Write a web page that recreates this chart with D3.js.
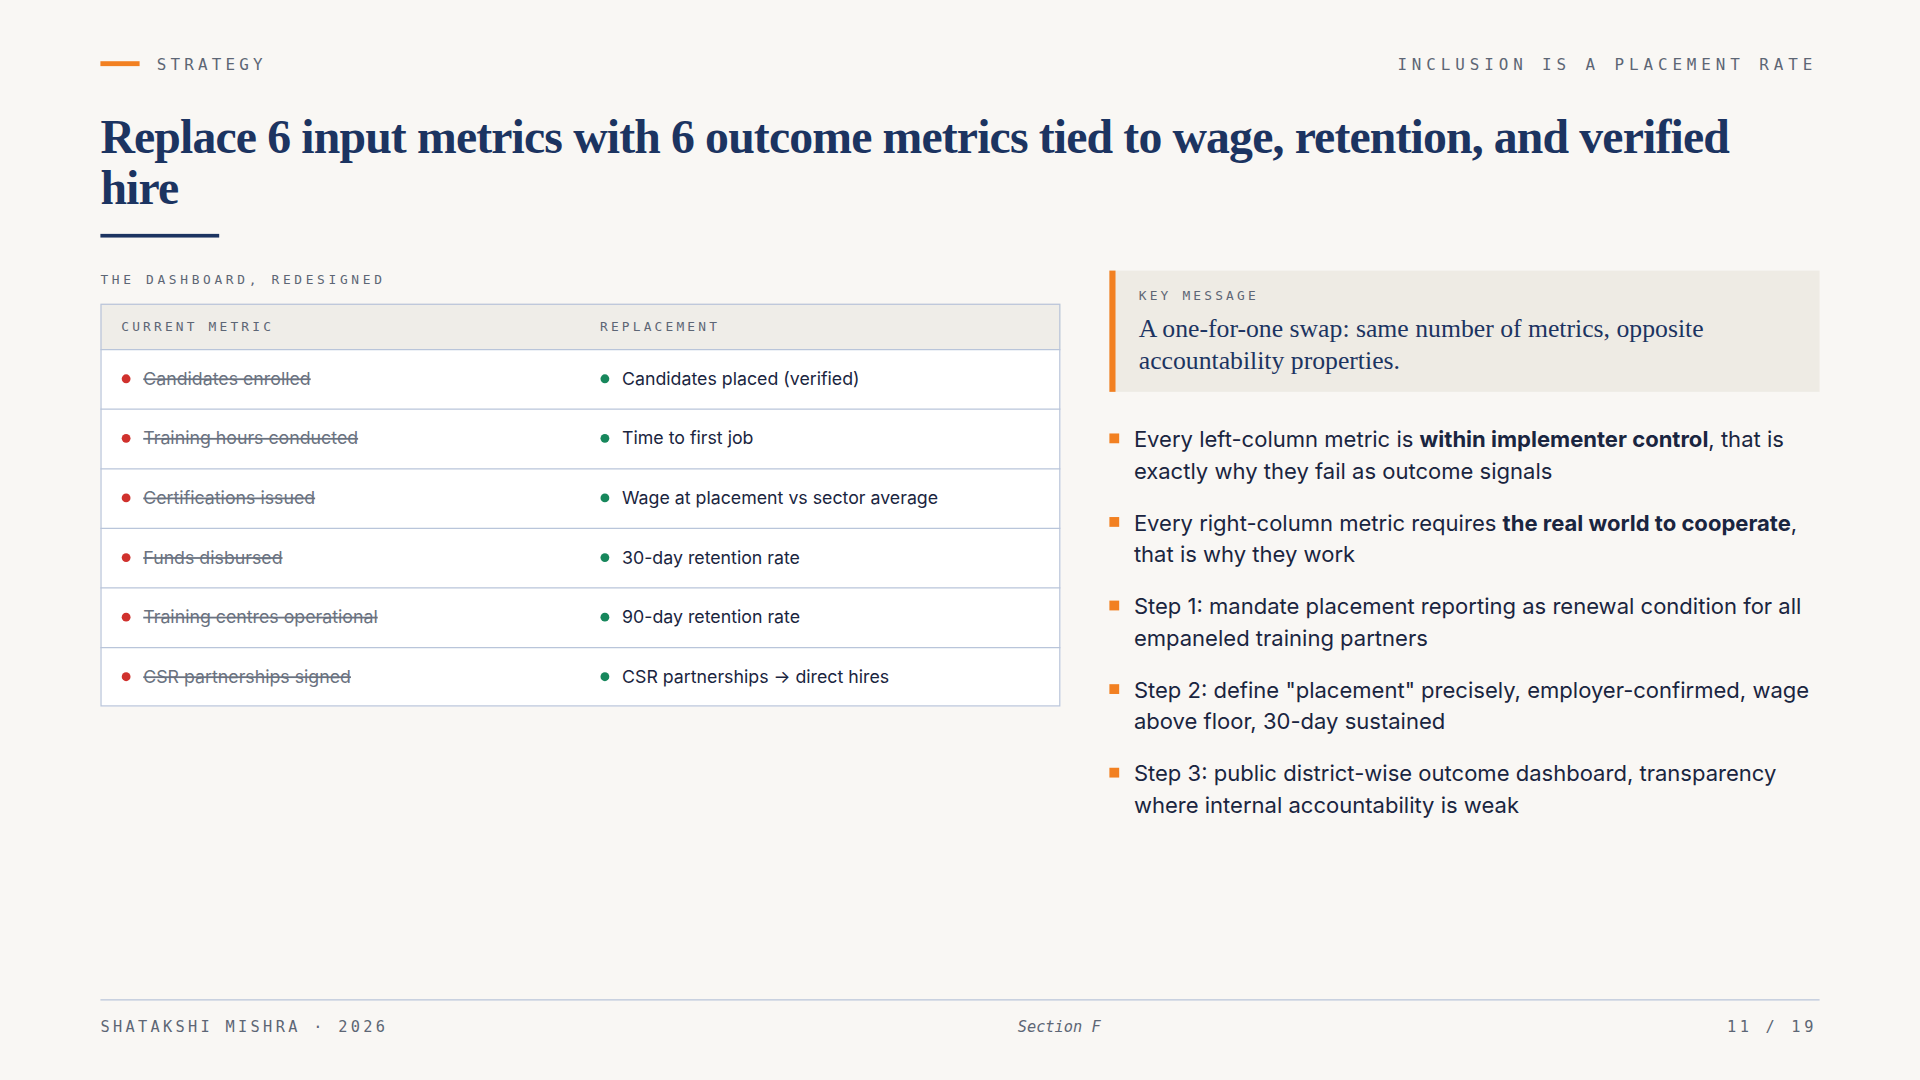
<!DOCTYPE html>
<html><head><meta charset="utf-8">
<script src="https://cdn.jsdelivr.net/npm/d3@7"></script>
<style>body{margin:0;background:#f9f7f4}svg{display:block}</style>
</head><body>
<svg id="c" width="1920" height="1080" viewBox="0 0 1568 882"></svg>
<script>
// data
var currentMetrics = ["Candidates enrolled", "Training hours conducted", "Certifications issued",
  "Funds disbursed", "Training centres operational", "CSR partnerships signed"];
var replacements = ["Candidates placed (verified)", "Time to first job", "Wage at placement vs sector average",
  "30-day retention rate", "90-day retention rate", "CSR partnerships \u2192 direct hires"];
var bullets = [
  [["Every left-column metric is ", 0], ["within implementer control", 1], [", that is", 0], ["|exactly why they fail as outcome signals", 0]],
  [["Every right-column metric requires ", 0], ["the real world to cooperate", 1], [",", 0], ["|that is why they work", 0]],
  [["Step 1: mandate placement reporting as renewal condition for all", 0], ["|empaneled training partners", 0]],
  [["Step 2: define \"placement\" precisely, employer-confirmed, wage", 0], ["|above floor, 30-day sustained", 0]],
  [["Step 3: public district-wise outcome dashboard, transparency", 0], ["|where internal accountability is weak", 0]]
];

var navy = "#1c3461", grey = "#5d6675", orange = "#f28021", line = "#b9c5da";
var mono = "'DejaVu Sans Mono', monospace", serif = "'Liberation Serif', 'DejaVu Serif', serif", sans = "Inter, 'Noto Sans', sans-serif";
var svg = d3.select("#c");
svg.append("rect").attr("width", 1568).attr("height", 882).attr("fill", "#f9f7f4");

// header
svg.append("rect").attr("x", 82).attr("y", 50).attr("width", 32).attr("height", 4).attr("fill", orange);
svg.append("text").attr("x", 128).attr("y", 57).attr("font-family", mono).attr("font-size", 13)
  .attr("letter-spacing", 3.4).attr("fill", grey).text("STRATEGY");
svg.append("text").attr("x", 1484).attr("y", 57).attr("text-anchor", "end").attr("font-family", mono).attr("font-size", 13)
  .attr("letter-spacing", 4).attr("fill", grey).text("INCLUSION IS A PLACEMENT RATE");

var title = svg.append("text").attr("font-family", serif).attr("font-size", 39).attr("font-weight", 700)
  .attr("fill", navy).attr("letter-spacing", -0.7);
title.append("tspan").attr("x", 82).attr("y", 125).text("Replace 6 input metrics with 6 outcome metrics tied to wage, retention, and verified");
title.append("tspan").attr("x", 82).attr("y", 167).text("hire");
svg.append("rect").attr("x", 82).attr("y", 191).attr("width", 97).attr("height", 3).attr("fill", navy);

// table
svg.append("text").attr("x", 82).attr("y", 232).attr("font-family", mono).attr("font-size", 10.5)
  .attr("letter-spacing", 3).attr("fill", grey).text("THE DASHBOARD, REDESIGNED");
var tx = 82, tw = 784, headH = 37, tableTop = 248, tableBottom = 577;
var y = d3.scaleBand().domain(d3.range(currentMetrics.length)).range([tableTop + headH, tableBottom]);
svg.append("rect").attr("x", tx).attr("y", tableTop).attr("width", tw).attr("height", headH).attr("fill", "#efede8");
svg.append("rect").attr("x", tx).attr("y", tableTop + headH).attr("width", tw).attr("height", tableBottom - tableTop - headH).attr("fill", "#fff");
[["CURRENT METRIC", 99], ["REPLACEMENT", 490]].forEach(function(h) {
  svg.append("text").attr("x", h[1]).attr("y", 270).attr("font-family", mono).attr("font-size", 10.5)
    .attr("letter-spacing", 2.6).attr("fill", grey).text(h[0]);
});
var rows = svg.selectAll(".row").data(currentMetrics).enter().append("g")
  .attr("class", "row")
  .attr("transform", function(d, i) { return "translate(0," + y(i) + ")"; });
rows.append("line").attr("x1", tx).attr("x2", tx + tw).attr("y1", 0.5).attr("y2", 0.5).attr("stroke", line);
rows.append("circle").attr("cx", 103).attr("cy", y.bandwidth() / 2).attr("r", 3.6).attr("fill", "#d0312d");
rows.append("text").attr("x", 117).attr("y", y.bandwidth() / 2 + 5).attr("font-family", sans).attr("font-size", 14.5)
  .attr("fill", "#6a7280").attr("text-decoration", "line-through").text(function(d) { return d; });
rows.append("circle").attr("cx", 494).attr("cy", y.bandwidth() / 2).attr("r", 3.6).attr("fill", "#17875c");
rows.append("text").attr("x", 508).attr("y", y.bandwidth() / 2 + 5).attr("font-family", sans).attr("font-size", 14.5)
  .attr("fill", "#1a2540").text(function(d, i) { return replacements[i]; });
svg.append("rect").attr("x", tx + 0.5).attr("y", tableTop + 0.5).attr("width", tw - 1).attr("height", tableBottom - tableTop - 1)
  .attr("fill", "none").attr("stroke", line);

// key message
svg.append("rect").attr("x", 906).attr("y", 221).attr("width", 580).attr("height", 99).attr("fill", "#eeebe4");
svg.append("rect").attr("x", 906).attr("y", 221).attr("width", 5).attr("height", 99).attr("fill", orange);
svg.append("text").attr("x", 930).attr("y", 245).attr("font-family", mono).attr("font-size", 10.5)
  .attr("letter-spacing", 2.6).attr("fill", grey).text("KEY MESSAGE");
var km = svg.append("text").attr("font-family", serif).attr("font-size", 21).attr("fill", navy);
km.append("tspan").attr("x", 930).attr("y", 275).text("A one-for-one swap: same number of metrics, opposite");
km.append("tspan").attr("x", 930).attr("y", 301).text("accountability properties.");

// bullets
var by = d3.scaleLinear().domain([0, bullets.length - 1]).range([365, 638]);
bullets.forEach(function(b, i) {
  svg.append("rect").attr("x", 906).attr("y", by(i) - 11).attr("width", 8).attr("height", 8).attr("fill", orange);
  var t = svg.append("text").attr("font-family", sans).attr("font-size", 18).attr("fill", "#1a2540");
  var first = true;
  b.forEach(function(p) {
    var s = t.append("tspan").attr("font-weight", p[1] ? 700 : 400);
    var txt = p[0];
    if (first) { s.attr("x", 926).attr("y", by(i)); first = false; }
    if (txt[0] === "|") { s.attr("x", 926).attr("y", by(i) + 26); txt = txt.slice(1); }
    s.text(txt);
  });
});

// footer
svg.append("line").attr("x1", 82).attr("x2", 1486).attr("y1", 816.5).attr("y2", 816.5).attr("stroke", line);
svg.append("text").attr("x", 82).attr("y", 843).attr("font-family", mono).attr("font-size", 12.5)
  .attr("letter-spacing", 2.7).attr("fill", grey).text("SHATAKSHI MISHRA \u00b7 2026");
svg.append("text").attr("x", 865).attr("y", 843).attr("text-anchor", "middle").attr("font-family", mono).attr("font-size", 12.5)
  .attr("font-style", "italic").attr("fill", grey).text("Section F");
svg.append("text").attr("x", 1484).attr("y", 843).attr("text-anchor", "end").attr("font-family", mono).attr("font-size", 12.5)
  .attr("letter-spacing", 3).attr("fill", grey).text("11 / 19");
</script>
</body></html>
